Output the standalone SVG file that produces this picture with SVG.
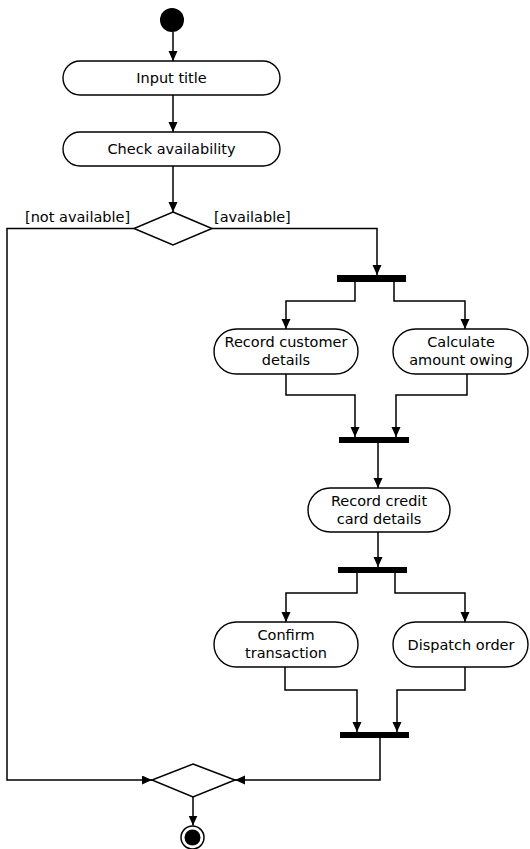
<svg xmlns="http://www.w3.org/2000/svg" width="530" height="849" viewBox="0 0 530 849">
<defs>
<marker id="arr" markerUnits="userSpaceOnUse" markerWidth="10" markerHeight="10" refX="10" refY="4.5" orient="auto">
<path d="M0,0 L10,4.5 L0,9 Z" fill="#000"/>
</marker>
<style>
.act{fill:#fff;stroke:#000;stroke-width:1.4}
.bar{fill:#000}
.dec{fill:#fff;stroke:#000;stroke-width:1.5}
.lbl{font-family:"DejaVu Sans",sans-serif;font-size:14.5px;fill:#000;text-anchor:middle}
.grd{font-family:"DejaVu Sans",sans-serif;font-size:14.5px;fill:#000}
.con{fill:none;stroke:#000;stroke-width:1.5}
</style>
</defs>
<rect width="530" height="849" fill="#fff"/>

<g id="connectors">
<path class="con" d="M173,32 V61" marker-end="url(#arr)"/>
<path class="con" d="M173,95 V132" marker-end="url(#arr)"/>
<path class="con" d="M173,166 V212" marker-end="url(#arr)"/>
<path class="con" d="M134,228.5 H7 V780 H152" marker-end="url(#arr)"/>
<path class="con" d="M212,228.5 H377 V275" marker-end="url(#arr)"/>
<path class="con" d="M355,282 V301 H286 V329" marker-end="url(#arr)"/>
<path class="con" d="M394,282 V301 H465 V329" marker-end="url(#arr)"/>
<path class="con" d="M286,374 V395 H355 V437" marker-end="url(#arr)"/>
<path class="con" d="M467,374 V395 H396 V437" marker-end="url(#arr)"/>
<path class="con" d="M378,443 V488" marker-end="url(#arr)"/>
<path class="con" d="M378,532 V567" marker-end="url(#arr)"/>
<path class="con" d="M357,573 V593 H286 V622" marker-end="url(#arr)"/>
<path class="con" d="M395,573 V593 H465 V622" marker-end="url(#arr)"/>
<path class="con" d="M285,667 V690 H357 V732" marker-end="url(#arr)"/>
<path class="con" d="M465,667 V690 H397 V732" marker-end="url(#arr)"/>
<path class="con" d="M380,738 V780 H235" marker-end="url(#arr)"/>
<path class="con" d="M193,797 V825.5" marker-end="url(#arr)"/>
</g>

<g id="start"><circle cx="172" cy="20" r="12" fill="#000"/></g>

<g id="input-title">
<rect class="act" x="63" y="61" width="217" height="34" rx="17"/>
<text class="lbl" x="171.5" y="83">Input title</text>
</g>

<g id="check-availability">
<rect class="act" x="63" y="132" width="217" height="34" rx="17"/>
<text class="lbl" x="171.5" y="154">Check availability</text>
</g>

<g id="decision">
<polygon class="dec" points="173,212 212,228.5 173,245 134,228.5"/>
<text class="grd" x="25" y="222">[not available]</text>
<text class="grd" x="214" y="222">[available]</text>
</g>

<g id="fork1"><rect class="bar" x="337" y="275" width="69" height="7"/></g>

<g id="record-customer">
<rect class="act" x="214" y="329" width="144" height="45" rx="22.5"/>
<text class="lbl" x="286" y="347">Record customer</text>
<text class="lbl" x="286" y="365">details</text>
</g>

<g id="calculate-amount">
<rect class="act" x="393" y="329" width="135" height="45" rx="22.5"/>
<text class="lbl" x="461" y="347">Calculate</text>
<text class="lbl" x="461" y="365">amount owing</text>
</g>

<g id="join1"><rect class="bar" x="339" y="437" width="70" height="6"/></g>

<g id="record-credit">
<rect class="act" x="308" y="488" width="142" height="44" rx="22"/>
<text class="lbl" x="379" y="506">Record credit</text>
<text class="lbl" x="379" y="524">card details</text>
</g>

<g id="fork2"><rect class="bar" x="338" y="567" width="69" height="6"/></g>

<g id="confirm">
<rect class="act" x="214" y="622" width="144" height="45" rx="22.5"/>
<text class="lbl" x="286" y="640">Confirm</text>
<text class="lbl" x="286" y="658">transaction</text>
</g>

<g id="dispatch">
<rect class="act" x="393" y="622" width="135" height="45" rx="22.5"/>
<text class="lbl" x="461" y="650">Dispatch order</text>
</g>

<g id="join2"><rect class="bar" x="340" y="732" width="69" height="6"/></g>

<g id="merge"><polygon class="dec" points="193,764 235,780 193,797 152,780"/></g>

<g id="end">
<circle cx="192.5" cy="837.5" r="11.5" fill="#fff" stroke="#000" stroke-width="1.5"/>
<circle cx="192.5" cy="837.5" r="8" fill="#000"/>
</g>
</svg>
